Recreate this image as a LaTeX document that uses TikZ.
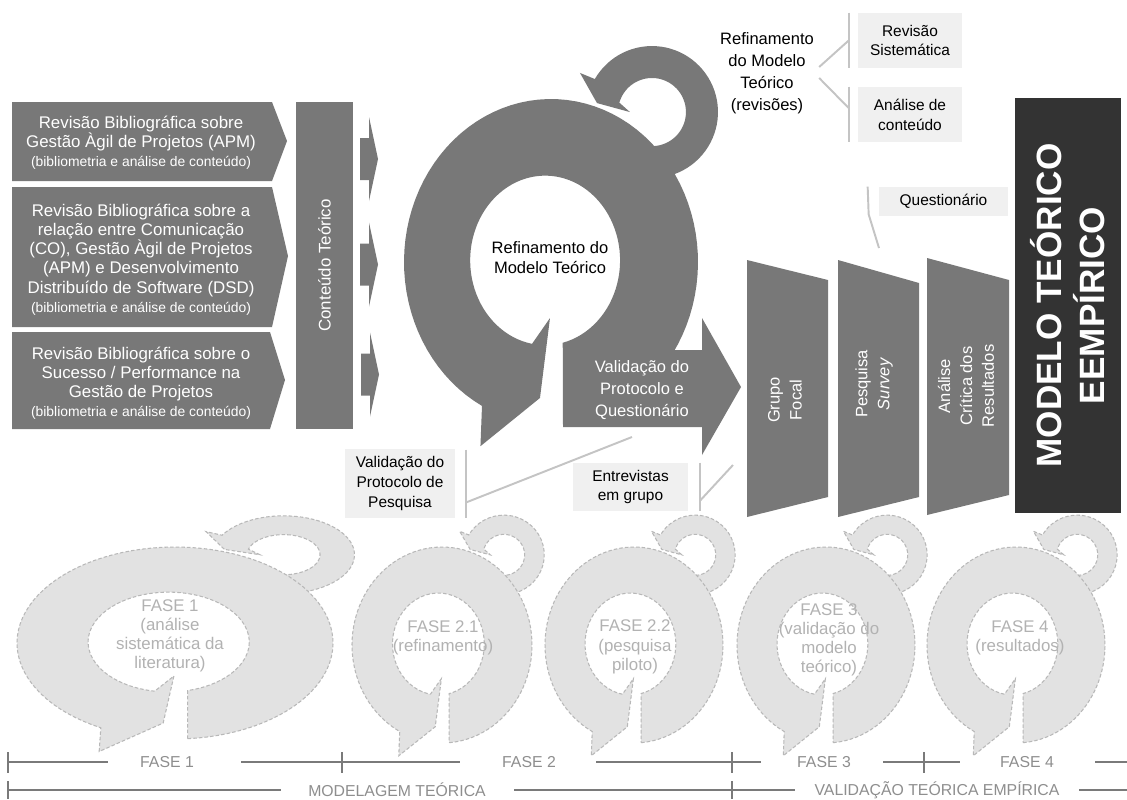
\documentclass[tikz,border=0pt]{standalone}
\usepackage{fontspec}
\setmainfont{Liberation Sans}
\usetikzlibrary{calc}

\definecolor{shapegray}{HTML}{787878}
\definecolor{darkbox}{HTML}{333333}
\definecolor{lightfill}{HTML}{F0F0F0}
\definecolor{linegray}{HTML}{C4C4C4}
\definecolor{faintfill}{HTML}{E2E2E2}
\definecolor{faintline}{HTML}{B8B8B8}
\definecolor{fainttext}{HTML}{B2B2B2}
\definecolor{axisgray}{HTML}{7A7A7A}
\definecolor{axistext}{HTML}{8E8E8E}

\newcommand\sizemain{\fontsize{9.6}{10.9}\selectfont}
\newcommand\sizesmall{\fontsize{7.9}{9.6}\selectfont}
\newcommand\sizelabel{\fontsize{9.4}{11.4}\selectfont}
\newcommand\sizelabelwide{\fontsize{9.4}{12.5}\selectfont}
\newcommand\sizebox{\fontsize{8.8}{11.3}\selectfont}
\newcommand\sizefaint{\fontsize{9.6}{10.9}\selectfont}
\newcommand\sizeaxis{\fontsize{9}{10}\selectfont}
\newcommand\sizebig{\fontsize{20}{24.5}\selectfont\bfseries}

% circular arrow: outer radius 1 around the origin, y pointing down,
% tail cut at the bottom right, head at the bottom left
\newcommand\ringoutline{plot[domain=-85.4:242,samples=90] ({cos(\x)},{-sin(\x)})
  -- (-0.48,1.13) -- (-0.075,0.834) -- (-0.007,0.344) -- (-0.129,0.502)
  -- plot[domain=100:436.4,samples=90] ({-0.04+0.51*cos(\x)},{-0.01+0.52*sin(\x)})
  -- cycle}
% small feedback loop on the upper right of the ring
\newcommand\loopoutline{plot[domain=-100:150,samples=60] ({0.687+0.449*cos(\x)},{-0.920-0.405*sin(\x)})
  -- (0.197,-1.160) -- (0.313,-0.975) -- (0.537,-0.920)
  -- plot[domain=-164:100,samples=60] ({0.687+0.231*cos(\x)},{-0.920+0.209*sin(\x)})
  -- cycle}
% faded phase ring: centre x, centre y, x radius, y radius
\newcommand\phasering[4]{%
  \begin{scope}[shift={(#1,#2)},xscale=#3,yscale=#4]
    \filldraw[faintshape] \loopoutline;
    \filldraw[faintshape] \ringoutline;
  \end{scope}}

\begin{document}
\begin{tikzpicture}[x=0.02cm,y=-0.02cm,
  faintshape/.style={fill=faintfill,draw=faintline,line width=0.6pt,dash pattern=on 2pt off 1.2pt},
  whitetext/.style={text=white,align=center,inner sep=0pt,font=\sizemain},
  ringlabel/.style={text=black,align=center,inner sep=0pt,font=\sizelabel},
  lightbox/.style={fill=lightfill,text=black,align=center,inner sep=0pt,font=\sizebox},
  callout/.style={draw=linegray,line width=1.1pt},
  fainttxt/.style={text=fainttext,align=center,inner sep=0pt,font=\sizefaint},
  axisline/.style={draw=axisgray,line width=1.1pt},
  axislabel/.style={text=axistext,inner sep=0pt,font=\sizeaxis},
  feedarrow/.pic={\fill[shapegray] (0,-21) -- (9,-21) -- (9,-42) -- (18,0) -- (9,42) -- (9,21) -- (0,21) -- cycle;}]

\fill[white] (0,0) rectangle (1127,799);
\useasboundingbox (0,0) rectangle (1127,799);

% ---------- faded phase rings ----------
\phasering{175}{643}{158}{96}
\phasering{442}{645}{90}{98}
\phasering{634}{645}{89}{98}
\phasering{826}{645}{89}{98}
\phasering{1016}{645}{89}{98}

\node[fainttxt] (p1) at (170,636) {FASE 1\\(análise\\sistemática da\\literatura)};
\node[fainttxt] (p21) at (443,638) {FASE 2.1\\(refinamento)};
\node[fainttxt] (p22) at (635,647) {FASE 2.2\\(pesquisa\\piloto)};
\node[fainttxt] (p3) at (829,640) {FASE 3\\(validação do\\modelo\\teórico)};
\node[fainttxt] (p4) at (1020,638) {FASE 4\\(resultados)};

% ---------- literature review inputs ----------
\fill[shapegray] (12,102) -- (272,102) -- (287,141) -- (272,181) -- (12,181) -- cycle;
\fill[shapegray] (12,187) -- (272,187) -- (288,256) -- (272,327) -- (12,327) -- cycle;
\fill[shapegray] (12,332) -- (270,332) -- (285,380) -- (270,429) -- (12,429) -- cycle;

\node[whitetext] (lb1) at (141,142.5) {Revisão Bibliográfica sobre\\Gestão Àgil de Projetos (APM)\\{\sizesmall(bibliometria e análise de conteúdo)}};
\node[whitetext] (lb2) at (141,259.5) {Revisão Bibliográfica sobre a\\relação entre Comunicação\\(CO), Gestão Àgil de Projetos\\(APM) e Desenvolvimento\\Distribuído de Software (DSD)\\{\sizesmall(bibliometria e análise de conteúdo)}};
\node[whitetext] (lb3) at (141,383) {Revisão Bibliográfica sobre o\\Sucesso / Performance na\\Gestão de Projetos\\{\sizesmall(bibliometria e análise de conteúdo)}};

\node[fill=shapegray,minimum width=6.54cm,minimum height=1.14cm,inner sep=0pt,
      rotate=90,text=white,font=\sizemain] (ct) at (324.5,265.5) {Conteúdo Teórico};

\pic at (360,159) {feedarrow};
\pic at (360,264.5) {feedarrow};
\pic at (361,374.5) {feedarrow};

% ---------- central refinement cycle ----------
\begin{scope}[shift={(551,262)},xscale=147,yscale=163]
  \fill[shapegray] \loopoutline;
  \fill[shapegray] \ringoutline;
\end{scope}
\node[ringlabel] (rc) at (550,258) {Refinamento do\\Modelo Teórico};

\fill[shapegray] (563,350) -- (702,350) -- (702,318) -- (741,387) -- (702,455) -- (702,427) -- (563,427) -- cycle;
\node[whitetext,font=\sizelabelwide] (vpq) at (642,390) {Validação do\\Protocolo e\\Questionário};

% ---------- empirical validation steps ----------
\fill[shapegray] (747,260) -- (828,280) -- (828,497) -- (747,517) -- cycle;
\fill[shapegray] (838,260) -- (919,283) -- (919,497) -- (838,517) -- cycle;
\fill[shapegray] (927,258) -- (1009,280) -- (1009,495) -- (927,515) -- cycle;
\node[whitetext,font=\sizelabelwide,rotate=90] (gf) at (785,400) {Grupo\\Focal};
\node[whitetext,font=\sizelabelwide,rotate=90] (ps) at (874,384) {Pesquisa\\\textit{Survey}};
\node[whitetext,font=\sizelabelwide,rotate=90] (acr) at (966,386) {Análise\\Crítica dos\\Resultados};

\node[fill=darkbox,minimum width=8.3cm,minimum height=2.12cm,inner sep=0pt,rotate=90,
      text=white,align=center,font=\sizebig] (mte) at (1068,305.5) {MODELO TEÓRICO\\EEMPÍRICO};

% ---------- annotations ----------
\node[ringlabel,font=\sizelabelwide] (rmt) at (767,73) {Refinamento\\do Modelo\\Teórico\\(revisões)};
\node[lightbox,minimum width=2.08cm,minimum height=1.1cm] (rs) at (910,40.5) {Revisão\\Sistemática};
\node[lightbox,minimum width=2.08cm,minimum height=1.1cm] (ac) at (910,114.5) {Análise de\\conteúdo};
\draw[callout] ($(rs.north west)+(-9,0)$) -- ($(rs.south west)+(-9,0)$);
\draw[callout] ($(ac.north west)+(-9,0)$) -- ($(ac.south west)+(-9,0)$);
\draw[callout] ($(rmt.east)+(5,-6)$) -- ($(rs.west)+(-9,0)$);
\draw[callout] ($(rmt.east)+(5,5)$) -- ($(ac.west)+(-9,-6.5)$);

\node[lightbox,minimum width=2.58cm,minimum height=0.58cm] (qst) at (943.5,201.5) {Questionário};
\coordinate (psfoot) at (879,248);
\draw[callout] ($(qst.north west)+(-11,0)$) -- ($(qst.south west)+(-10,-2)$) -- (psfoot);

\node[lightbox,minimum width=2.2cm,minimum height=1.38cm] (vpp) at (400,483.5) {Validação do\\Protocolo de\\Pesquisa};
\coordinate (vpqfoot) at (632,437);
\draw[callout] ($(vpp.north east)+(11,1)$) -- ($(vpp.south east)+(11,0)$);
\draw[callout] ($(vpp.south east)+(11,-16)$) -- (vpqfoot);

\node[lightbox,minimum width=2.3cm,minimum height=0.96cm] (ent) at (630.5,487) {Entrevistas\\em grupo};
\coordinate (gffoot) at (733,465);
\draw[callout] ($(ent.north east)+(12,0)$) -- ($(ent.south east)+(12,0)$);
\draw[callout] ($(ent.south east)+(12,-11)$) -- (gffoot);

% ---------- phase time line ----------
\node[axislabel] (t1) at (167,762) {FASE 1};
\node[axislabel] (t2) at (529,762) {FASE 2};
\node[axislabel] (t3) at (824,762) {FASE 3};
\node[axislabel] (t4) at (1027,762) {FASE 4};
\draw[axisline] (8,762) -- (108,762);
\draw[axisline] (241,762) -- (460,762);
\draw[axisline] (596,762) -- (761,762);
\draw[axisline] (883,762) -- (960,762);
\draw[axisline] (1095,762) -- (1127,762);
\draw[axisline,line width=0.8pt] (8,752) -- (8,773);
\draw[axisline,line width=0.8pt] (342,752) -- (342,773);
\draw[axisline,line width=0.8pt] (732,752) -- (732,773);
\draw[axisline,line width=0.8pt] (924,752) -- (924,773);

\node[axislabel] (mt) at (397,790) {MODELAGEM TEÓRICA};
\node[axislabel] (vte) at (937,790) {VALIDAÇÃO TEÓRICA EMPÍRICA};
\draw[axisline] (8,790) -- (281,790);
\draw[axisline] (514,790) -- (795,790);
\draw[axisline] (1079,790) -- (1127,790);
\draw[axisline,line width=0.8pt] (8,781) -- (8,799);
\draw[axisline,line width=0.8pt] (732,781) -- (732,799);

\end{tikzpicture}
\end{document}
